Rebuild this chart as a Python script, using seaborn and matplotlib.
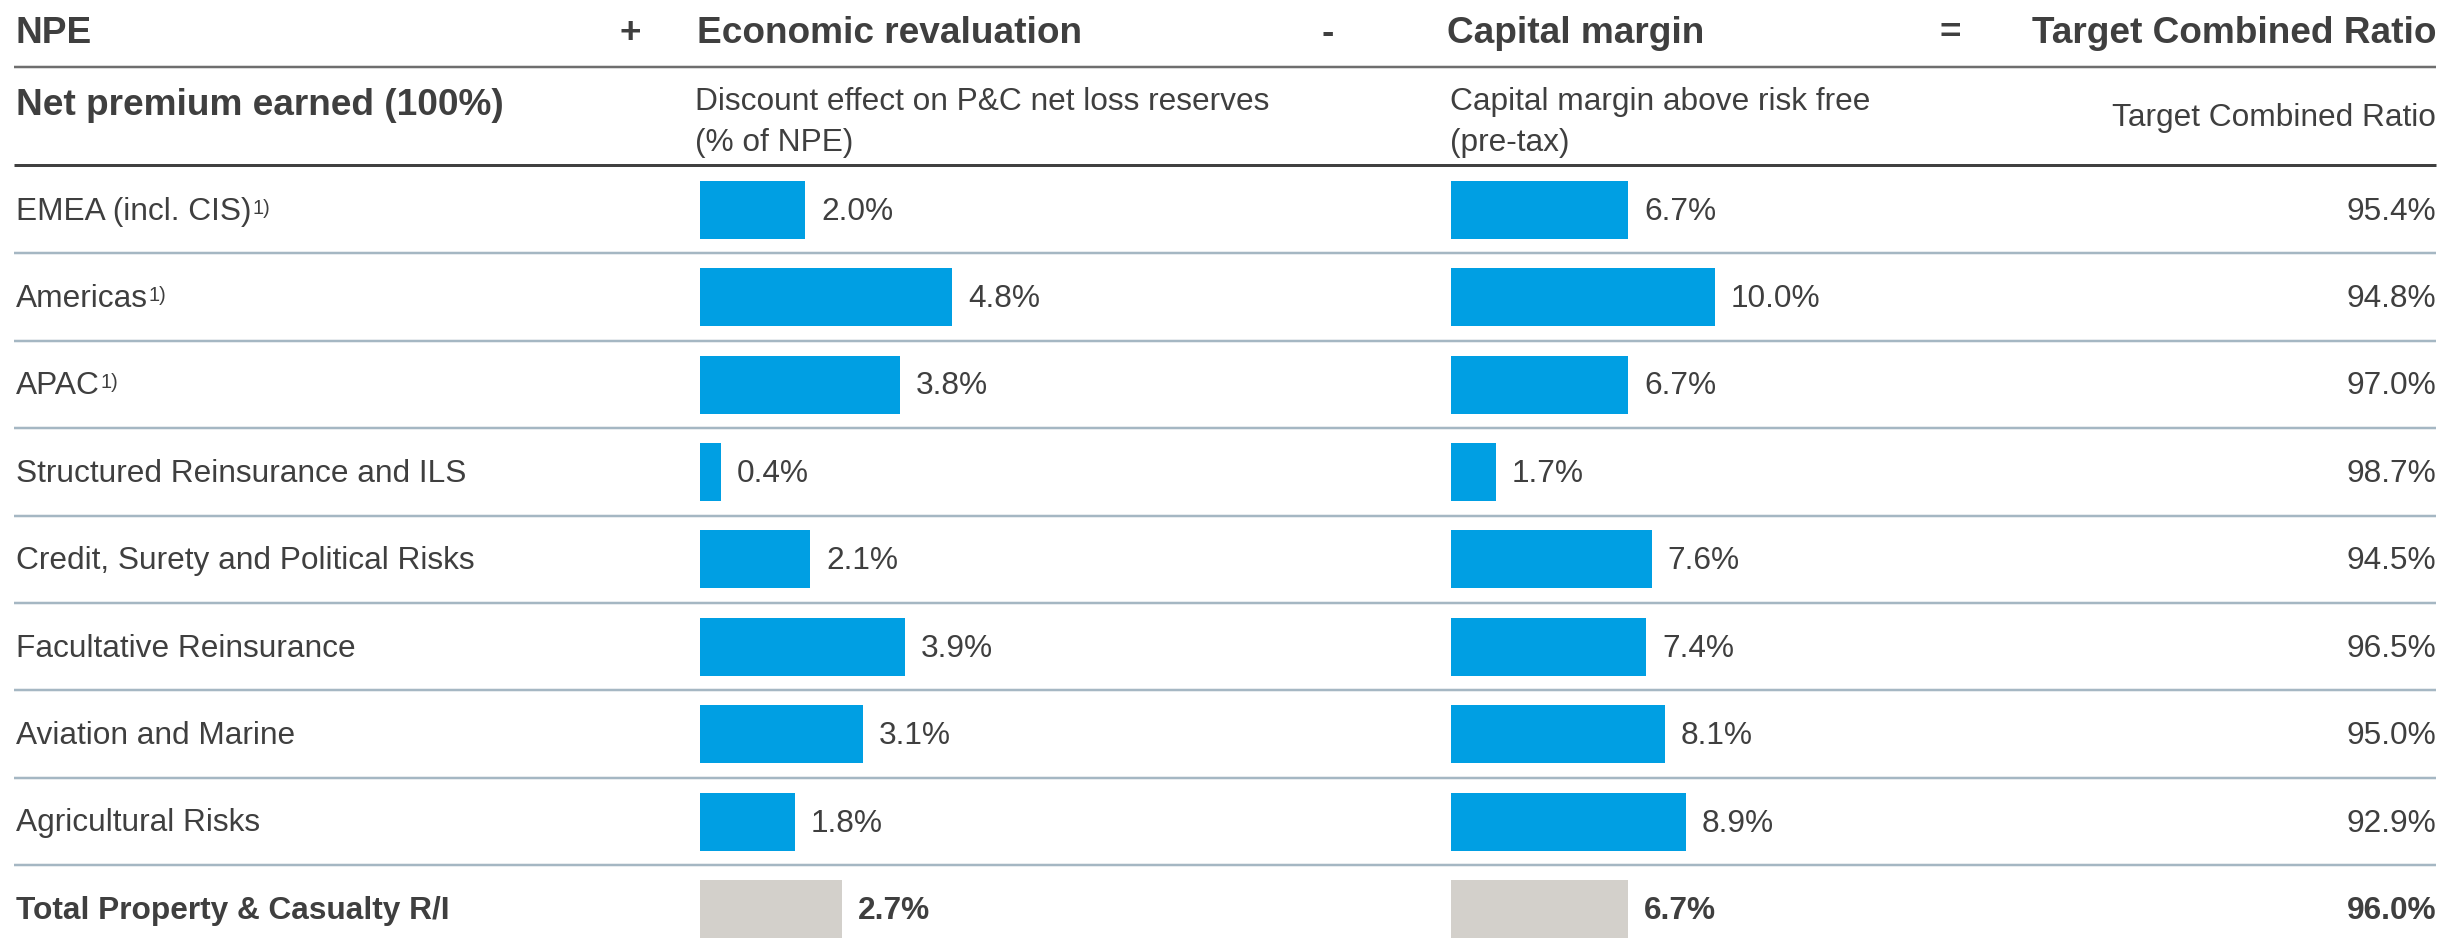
import matplotlib
matplotlib.use("Agg")
import matplotlib.pyplot as plt
import seaborn as sns
import pandas as pd

# ---- data -------------------------------------------------------------
segments = [
    "EMEA (incl. CIS)",
    "Americas",
    "APAC",
    "Structured Reinsurance and ILS",
    "Credit, Surety and Political Risks",
    "Facultative Reinsurance",
    "Aviation and Marine",
    "Agricultural Risks",
    "Total Property & Casualty R/I",
]
footnotes = ["1)", "1)", "1)", "", "", "", "", "", ""]
discount_effect = [2.0, 4.8, 3.8, 0.4, 2.1, 3.9, 3.1, 1.8, 2.7]
capital_margin = [6.7, 10.0, 6.7, 1.7, 7.6, 7.4, 8.1, 8.9, 6.7]
target_combined_ratio = [95.4, 94.8, 97.0, 98.7, 94.5, 96.5, 95.0, 92.9, 96.0]

header_titles = ["NPE", "Economic revaluation", "Capital margin", "Target Combined Ratio"]
header_operators = ["+", "-", "="]
column_subtitles = [
    "Net premium earned (100%)",
    "Discount effect on P&C net loss reserves\n(% of NPE)",
    "Capital margin above risk free\n(pre-tax)",
    "Target Combined Ratio",
]

# ---- style ------------------------------------------------------------
sns.set_theme(style="white")
plt.rcParams["font.family"] = ["Liberation Sans", "DejaVu Sans"]

TEXT = "#3f3f3f"
BLUE = "#009fe3"
GREY = "#d3d0cb"
RULE = "#a5b7c3"

W, H = 2441, 948           # canvas size in pixels (dpi 100)
ROW0, PITCH = 209.7, 87.4  # centre of first row and row spacing in pixels
PT = 0.72                  # points per pixel at 100 dpi
FS = 31.7 * PT             # body text
FS_HEAD = 37 * PT          # bold headings
FS_SUP = 20 * PT           # footnote markers
BASE = 10                  # baseline offset below row centre (px)

fig = plt.figure(figsize=(W / 100, H / 100), dpi=100)
fig.patch.set_facecolor("white")

# full-canvas axes in pixel units for headings, labels and rules
ax0 = fig.add_axes([0, 0, 1, 1])
ax0.set_xlim(0, W)
ax0.set_ylim(H, 0)
ax0.axis("off")


def row_y(i):
    return ROW0 + PITCH * i


# headings
ax0.text(16, 43, header_titles[0], fontsize=FS_HEAD, weight="bold", color=TEXT, va="baseline")
ax0.text(697, 43, header_titles[1], fontsize=FS_HEAD, weight="bold", color=TEXT, va="baseline")
ax0.text(1447, 43, header_titles[2], fontsize=FS_HEAD, weight="bold", color=TEXT, va="baseline")
ax0.text(2436, 43, header_titles[3], fontsize=FS_HEAD, weight="bold", color=TEXT, va="baseline", ha="right")
for op, xc in zip(header_operators, [630, 1328, 1950]):
    ax0.text(xc, 43, op, fontsize=FS_HEAD, weight="bold", color=TEXT, va="baseline", ha="center")

# column subtitles
ax0.text(16, 115, column_subtitles[0], fontsize=FS_HEAD, weight="bold", color=TEXT, va="baseline")
for x0, sub in [(695, column_subtitles[1]), (1450, column_subtitles[2])]:
    first, second = sub.split("\n")
    ax0.text(x0, 110, first, fontsize=FS, color=TEXT, va="baseline")
    ax0.text(x0, 151, second, fontsize=FS, color=TEXT, va="baseline")
ax0.text(2436, 126, column_subtitles[3], fontsize=FS, color=TEXT, va="baseline", ha="right")

# rules
ax0.hlines(67, 14, 2436, color="#6e6e6e", lw=2.5 * PT)
ax0.hlines(row_y(-0.5) - 1.5, 14, 2436, color="#404040", lw=3 * PT)
for i in range(len(segments) - 1):
    ax0.hlines(row_y(i + 0.5), 14, 2436, color=RULE, lw=2.5 * PT)

# row labels with footnote markers, and the target combined ratio column
renderer = fig.canvas.get_renderer()
last = len(segments) - 1
for i, (name, note, tcr) in enumerate(zip(segments, footnotes, target_combined_ratio)):
    weight = "bold" if i == last else "normal"
    t = ax0.text(16, row_y(i) + BASE, name, fontsize=FS, color=TEXT, va="baseline", weight=weight)
    if note:
        bb = t.get_window_extent(renderer)
        ax0.text(bb.x1 + 1, row_y(i) + BASE - 6, note, fontsize=FS_SUP, color=TEXT, va="baseline")
    ax0.text(2436, row_y(i) + BASE, f"{tcr:.1f}%", fontsize=FS, color=TEXT, va="baseline",
             ha="right", weight=weight)

# ---- bar columns ------------------------------------------------------
df = pd.DataFrame({
    "segment": segments,
    "discount": discount_effect,
    "capital": capital_margin,
})


def bar_column(left_px, width_px, px_per_pct, col):
    ax = fig.add_axes([left_px / W, 0, width_px / W, 1])
    sns.barplot(data=df, x=col, y="segment", order=segments, orient="h", color=BLUE,
                saturation=1, width=58 / PITCH, linewidth=0, ax=ax)
    ax.patches[-1].set_facecolor(GREY)
    ax.set_xlim(0, width_px / px_per_pct)
    ax.set_ylim((H - ROW0) / PITCH, -ROW0 / PITCH)
    ax.axis("off")
    for i, v in enumerate(df[col]):
        ax.annotate(f"{v:.1f}%", xy=(v, i), xytext=(16 * PT, -BASE * PT),
                    textcoords="offset points", va="baseline", ha="left",
                    fontsize=FS, color=TEXT, weight="bold" if i == last else "normal")
    return ax


bar_column(700, 600, 52.6, "discount")
bar_column(1451, 560, 26.4, "capital")

fig.savefig("out.png", dpi=100, facecolor="white")
